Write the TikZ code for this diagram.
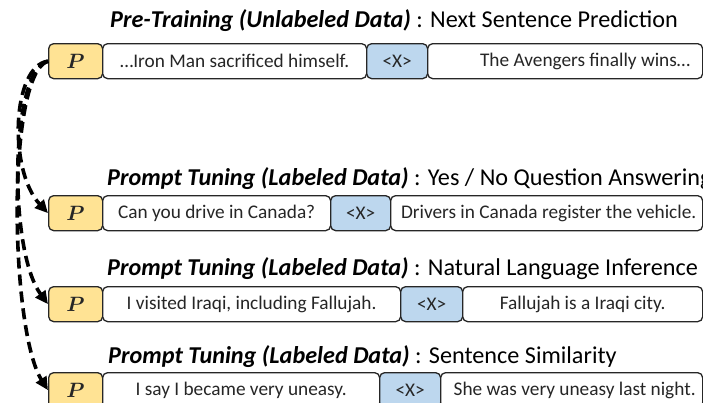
\documentclass[tikz,border=0pt]{standalone}
\usepackage{fontspec}
\usepackage{bm}
\setmainfont{Carlito}
\usetikzlibrary{arrows.meta}
\definecolor{pyellow}{HTML}{FFE394}
\definecolor{xblue}{HTML}{BDD7EE}
\definecolor{edge}{HTML}{262626}
\tikzset{
  box/.style={draw=edge, line width=1.3pt, rounded corners=5pt, minimum height=35pt, anchor=north west, inner sep=0pt, font=\fontsize{19.3}{22}\selectfont, text=black!85},
  pbox/.style={box, fill=pyellow, minimum width=54pt, font=\fontsize{21}{24}\selectfont},
  sbox/.style={box, fill=white},
  xbox/.style={box, fill=xblue},
  ttl/.style={anchor=base west, inner sep=0pt, font=\fontsize{24.2}{28}\selectfont, text=black},
  flow/.style={draw=black, line width=3.6pt, dash pattern=on 11pt off 6pt, -{Triangle[length=13pt,width=12pt]}}
}
\begin{document}
\begin{tikzpicture}[x=1pt,y=-1pt]
\useasboundingbox (0,0) rectangle (703,402);
% row 1
\node[ttl] (t1) at (110,27) {\textbf{\textit{Pre-Training (Unlabeled Data)}} : Next Sentence Prediction};
\node[pbox] (p1) at (48,43) {$\bm{P}$};
\node[sbox, minimum width=264pt] (a1) at (102,43) {…Iron Man sacrificed himself.};
\node[xbox, minimum width=61pt] (x1) at (366,43) {<X>};
\node[sbox, minimum width=275pt] (b1) at (427,43) {\hspace*{40pt}The Avengers finally wins…};
% row 2
\node[ttl] (t2) at (107,185) {\textbf{\textit{Prompt Tuning (Labeled Data)}} : Yes / No Question Answering};
\node[pbox] (p2) at (48,195) {$\bm{P}$};
\node[sbox, minimum width=228pt] (a2) at (102,195) {Can you drive in Canada?};
\node[xbox, minimum width=60pt] (x2) at (330,195) {<X>};
\node[sbox, minimum width=312pt] (b2) at (390,195) {\hspace*{4pt}Drivers in Canada register the vehicle.};
% row 3
\node[ttl] (t3) at (107,275) {\textbf{\textit{Prompt Tuning (Labeled Data)}} : Natural Language Inference};
\node[pbox] (p3) at (48,286) {$\bm{P}$};
\node[sbox, minimum width=298pt] (a3) at (102,286) {I visited Iraqi, including Fallujah.};
\node[xbox, minimum width=62pt] (x3) at (400,286) {<X>};
\node[sbox, minimum width=240pt] (b3) at (462,286) {Fallujah is a Iraqi city.};
% row 4
\node[ttl] (t4) at (108,363) {\textbf{\textit{Prompt Tuning (Labeled Data)}} : Sentence Similarity};
\node[pbox] (p4) at (48,372) {$\bm{P}$};
\node[sbox, minimum width=277pt] (a4) at (102,372) {I say I became very uneasy.};
\node[xbox, minimum width=61pt] (x4) at (379,372) {<X>};
\node[sbox, minimum width=262pt] (b4) at (440,372) {\hspace*{6pt}She was very uneasy last night.};
% arrows
\draw[flow] (p1.west) .. controls (12,66) and (8,170) .. (p2.west);
\draw[flow] (p1.west) .. controls (10,70) and (8,250) .. (p3.west);
\draw[flow] (p1.west) .. controls (6,74) and (10,330) .. (p4.west);
\end{tikzpicture}
\end{document}
